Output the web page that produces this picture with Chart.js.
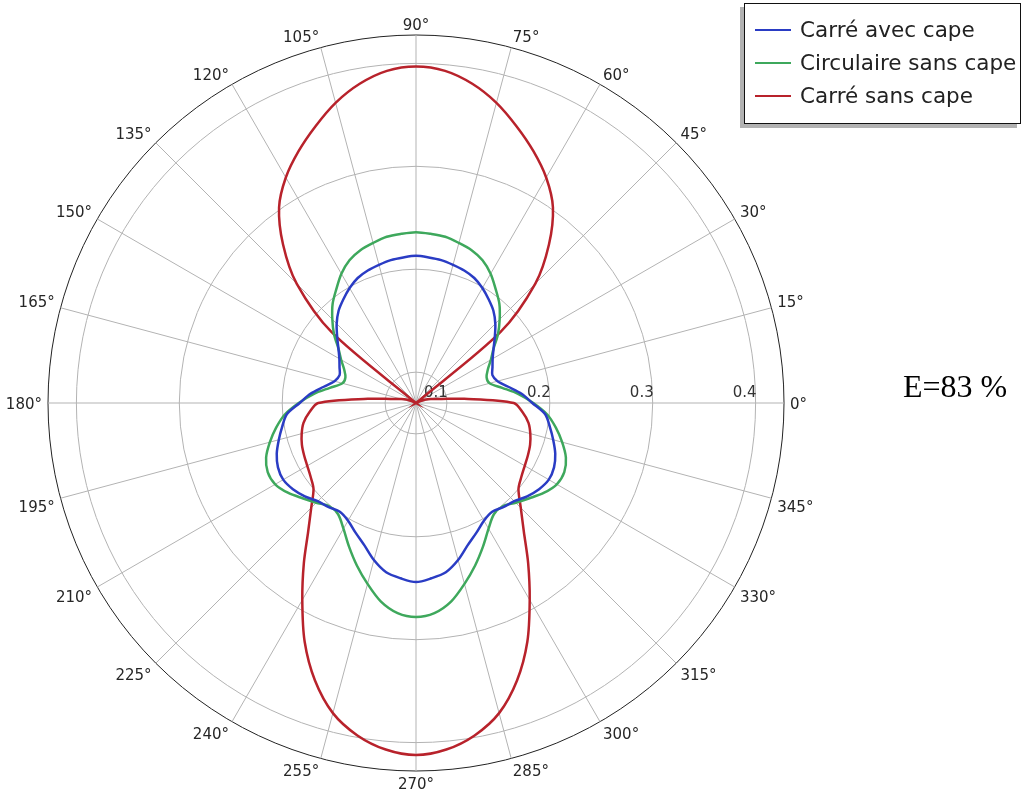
<!DOCTYPE html>
<html>
<head>
<meta charset="utf-8">
<script src="https://cdn.jsdelivr.net/npm/chart.js@4.4.1/dist/chart.umd.min.js"></script>
<style>
  html, body { margin: 0; padding: 0; background: #fff; overflow: hidden; }
  #wrap { position: relative; width: 1022px; height: 792px; }
  #c { position: absolute; left: 0; top: 0; }
  #legend { position: absolute; left: 744px; top: 3px; width: 275px; height: 119px;
            border: 1.5px solid #111; background: #fff; box-shadow: -4px 4px 0 rgba(0,0,0,0.3);
            font-family: "DejaVu Sans", sans-serif; font-size: 21.5px; color: #222; }
  .row { position: absolute; left: 0; height: 32px; line-height: 32px; white-space: nowrap; }
  .row .ln { position: absolute; left: 10px; top: 15px; width: 36px; height: 0; border-top: 2px solid; }
  .row .tx { position: absolute; left: 55px; top: 0; }
  #etext { position: absolute; left: 903px; top: 370px; font-family: "Liberation Serif", "Times New Roman", serif;
           font-size: 32px; line-height: 32px; color: #000; white-space: nowrap; }
</style>
</head>
<body>
<div id="wrap">
  <canvas id="c" width="1022" height="792"></canvas>
  <div id="legend"></div>
  <div id="etext">E=83 %</div>
</div>
<script>
// Angles (degrees, matplotlib convention), listed clockwise starting from the top (90°)
const ANGLES = [90,85,80,75,70,65,60,55,50,45,40,35,30,25,20,15,10,5,0,
  355,350,345,340,335,330,325,320,315,310,305,300,295,290,285,280,275,270,
  265,260,255,250,245,240,235,230,225,220,215,210,205,200,195,190,185,
  180,175,170,165,160,155,150,145,140,135,130,125,120,115,110,105,100,95];

const SERIES_NAMES = ['Carré avec cape', 'Circulaire sans cape', 'Carré sans cape'];

const CARRE_AVEC_CAPE = [
  0.213,0.212,0.211,0.209,0.207,0.204,0.199,0.193,0.187,0.179,0.170,0.162,0.156,0.152,0.149,0.152,0.161,0.173,0.183,
  0.196,0.202,0.208,0.214,0.218,0.219,0.216,0.211,0.205,0.202,0.199,0.202,0.209,0.217,0.228,0.237,0.241,0.244,
  0.241,0.237,0.228,0.217,0.209,0.202,0.199,0.202,0.205,0.211,0.216,0.219,0.218,0.214,0.208,0.202,0.196,
  0.183,0.173,0.161,0.152,0.149,0.152,0.156,0.162,0.170,0.179,0.187,0.193,0.199,0.204,0.207,0.209,0.211,0.212];

const CIRCULAIRE_SANS_CAPE = [
  0.236,0.235,0.234,0.231,0.228,0.223,0.215,0.205,0.196,0.185,0.174,0.162,0.154,0.147,0.143,0.144,0.155,0.170,0.184,
  0.198,0.208,0.217,0.225,0.229,0.228,0.222,0.214,0.207,0.201,0.202,0.211,0.224,0.238,0.252,0.266,0.275,0.278,
  0.275,0.266,0.252,0.238,0.224,0.211,0.202,0.201,0.207,0.214,0.222,0.228,0.229,0.225,0.217,0.208,0.198,
  0.184,0.170,0.155,0.144,0.143,0.147,0.154,0.162,0.174,0.185,0.196,0.205,0.215,0.223,0.228,0.231,0.234,0.235];

const CARRE_SANS_CAPE = [
  0.397,0.394,0.385,0.372,0.356,0.340,0.323,0.302,0.271,0.234,0.177,0.070,0.070,0.074,0.080,0.085,0.092,0.117,0.165,
  0.174,0.181,0.185,0.188,0.190,0.192,0.195,0.200,0.214,0.233,0.260,0.291,0.326,0.357,0.382,0.398,0.408,0.412,
  0.408,0.398,0.382,0.357,0.326,0.291,0.260,0.233,0.214,0.200,0.195,0.192,0.190,0.188,0.185,0.181,0.174,
  0.165,0.117,0.092,0.085,0.080,0.074,0.070,0.070,0.177,0.234,0.271,0.302,0.323,0.340,0.356,0.372,0.385,0.394];

const R_TICKS = [0.1, 0.2, 0.3, 0.4];
const R_MIN = 0.07;
const R_MAX = 0.4276;

// layout / style
const CX = 416, CY = 403, RADIUS = 368;
const LABEL_SHIFT_Y = 2.5;
const COLORS = ['#2a3cc4', '#3ea85c', '#b8222b'];
const GRID = '#b3b3b3';

// legend (HTML)
const legendEl = document.getElementById('legend');
const rowCenters = [26, 58.5, 91.5];
SERIES_NAMES.forEach((name, i) => {
  const row = document.createElement('div');
  row.className = 'row';
  row.style.top = (rowCenters[i] - 16) + 'px';
  row.innerHTML = '<span class="ln" style="border-color:' + COLORS[i] + '"></span><span class="tx"></span>';
  row.querySelector('.tx').textContent = name;
  legendEl.appendChild(row);
});

const rTickLabels = {
  id: 'rTickLabels',
  beforeDatasetsDraw(chart) {
    const s = chart.scales.r;
    const ctx = chart.ctx;
    ctx.save();
    ctx.font = '15px "DejaVu Sans"';
    ctx.fillStyle = '#333';
    ctx.textAlign = 'right';
    ctx.textBaseline = 'alphabetic';
    R_TICKS.forEach(v => {
      const d = s.getDistanceFromCenterForValue(v);
      ctx.fillText(v.toFixed(1), s.xCenter + d + 1, s.yCenter - 6);
    });
    ctx.restore();
  }
};

new Chart(document.getElementById('c'), {
  type: 'radar',
  data: {
    labels: ANGLES,
    datasets: [
      { label: SERIES_NAMES[0], data: CARRE_AVEC_CAPE, borderColor: COLORS[0] },
      { label: SERIES_NAMES[1], data: CIRCULAIRE_SANS_CAPE, borderColor: COLORS[1] },
      { label: SERIES_NAMES[2], data: CARRE_SANS_CAPE, borderColor: COLORS[2] }
    ].map(d => Object.assign(d, { fill: false, borderWidth: 2.5, pointRadius: 0, pointHoverRadius: 0, tension: 0.3 }))
  },
  options: {
    responsive: false,
    animation: false,
    devicePixelRatio: 1,
    events: [],
    plugins: { legend: { display: false }, tooltip: { enabled: false } },
    scales: {
      r: {
        min: R_MIN,
        max: R_MAX,
        startAngle: 0,
        afterBuildTicks: (s) => { s.ticks = [R_MIN, ...R_TICKS, R_MAX].map(v => ({ value: v })); },
        beforeFit: (s) => { s.xCenter = CX; s.yCenter = CY; s.drawingArea = RADIUS; },
        afterFit: (s) => {
          (s._pointLabelItems || []).forEach(it => { it.y += LABEL_SHIFT_Y; it.top += LABEL_SHIFT_Y; it.bottom += LABEL_SHIFT_Y; });
        },
        ticks: { display: false },
        grid: {
          circular: true,
          color: (ctx) => (ctx.tick && ctx.tick.value >= R_MAX - 1e-9) ? '#222' : GRID,
          lineWidth: 1
        },
        angleLines: {
          color: GRID,
          lineWidth: (ctx) => (ANGLES[ctx.index] % 15 === 0 ? 1 : 0)
        },
        pointLabels: {
          callback: (l) => (l % 15 === 0 ? l + '°' : ''),
          font: { family: 'DejaVu Sans', size: 15, lineHeight: 0.76 },
          color: '#262626',
          padding: 6
        }
      }
    }
  },
  plugins: [rTickLabels]
});
</script>
</body>
</html>
